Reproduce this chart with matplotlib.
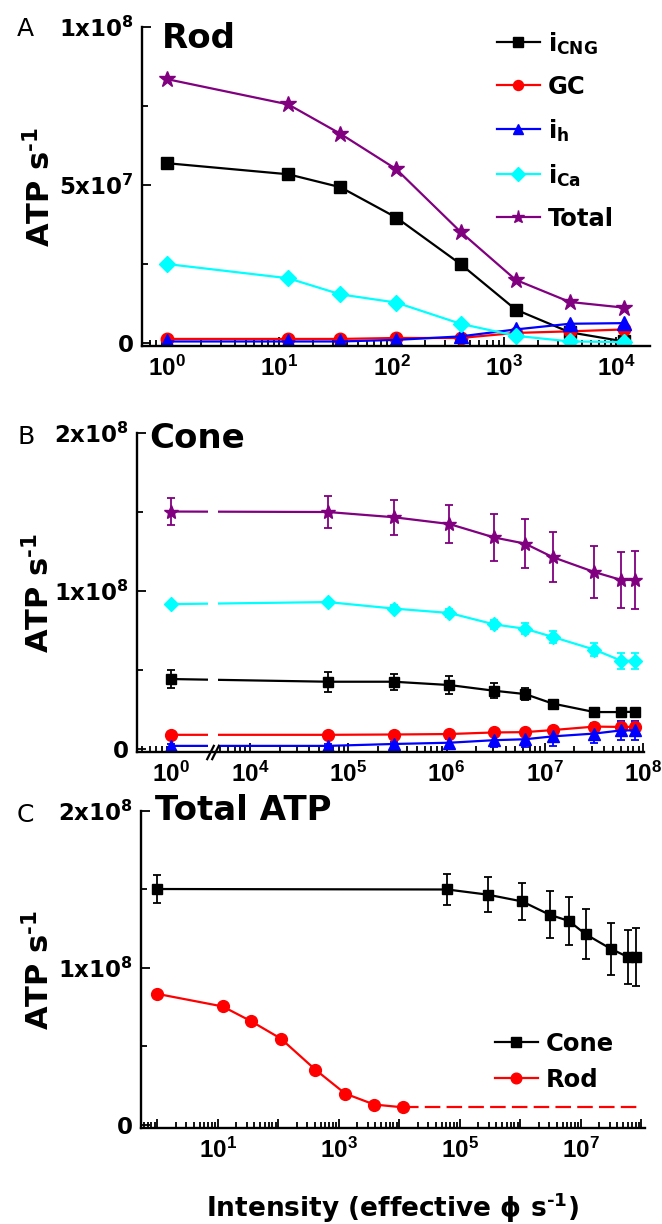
import numpy as np
import matplotlib
matplotlib.use("Agg")
import matplotlib.pyplot as plt
from matplotlib.ticker import FixedLocator, FuncFormatter, LogLocator, NullFormatter
from matplotlib.transforms import blended_transform_factory

# ---------------- data ----------------
rod_x = [1, 12, 35, 110, 410, 1270, 3850, 11700]
rod_icng = [5.69e7, 5.34e7, 4.93e7, 3.97e7, 2.5e7, 1.06e7, 3.4e6, 5e5]
rod_gc = [1.3e6, 1.3e6, 1.3e6, 1.6e6, 1.6e6, 3.2e6, 3.7e6, 4.3e6]
rod_ih = [5e5, 5e5, 5e5, 1.0e6, 2.1e6, 4.3e6, 6.1e6, 6.3e6]
rod_ica = [2.5e7, 2.05e7, 1.54e7, 1.28e7, 6.1e6, 2.3e6, 5e5, 3e5]
rod_total = [8.35e7, 7.55e7, 6.62e7, 5.5e7, 3.52e7, 2.0e7, 1.3e7, 1.12e7]
rod_plateau_x = [11700, 9.4e7]

cone_x = [1, 6.2e4, 2.9e5, 1.07e6, 3.05e6, 6.3e6, 1.2e7, 3.2e7, 6.0e7, 8.3e7]
cone_icng = [4.43e7, 4.26e7, 4.26e7, 4.05e7, 3.69e7, 3.48e7, 2.88e7, 2.34e7, 2.34e7, 2.36e7]
cone_icng_err = [5.7e6, 6.2e6, 5.0e6, 5.5e6, 4.8e6, 3.7e6, 2.5e6, 2.0e6, 2.0e6, 2.0e6]
cone_gc = [9.0e6, 9.0e6, 9.2e6, 9.5e6, 1.05e7, 1.07e7, 1.2e7, 1.42e7, 1.4e7, 1.4e7]
cone_gc_err = [1.0e6, 1.0e6, 1.0e6, 1.2e6, 1.5e6, 1.5e6, 2.0e6, 2.5e6, 2.5e6, 2.5e6]
cone_ih = [2.0e6, 2.0e6, 3.2e6, 4.0e6, 5.6e6, 6.2e6, 8.0e6, 9.8e6, 1.18e7, 1.18e7]
cone_ih_err = [1.0e6, 1.0e6, 1.5e6, 2.5e6, 4.5e6, 5.0e6, 6.0e6, 6.0e6, 6.0e6, 6.0e6]
cone_ica = [9.17e7, 9.3e7, 8.89e7, 8.61e7, 7.89e7, 7.61e7, 7.1e7, 6.29e7, 5.59e7, 5.59e7]
cone_ica_err = [1.5e6, 1.5e6, 2.0e6, 2.5e6, 3.0e6, 3.5e6, 4.0e6, 4.0e6, 5.0e6, 5.0e6]
cone_total = [1.503e8, 1.5e8, 1.467e8, 1.424e8, 1.339e8, 1.3e8, 1.215e8, 1.12e8, 1.07e8, 1.07e8]
cone_total_err = [8.8e6, 1.0e7, 1.1e7, 1.2e7, 1.5e7, 1.55e7, 1.6e7, 1.66e7, 1.75e7, 1.86e7]

series_labels = [r"i$_{\mathbf{CNG}}$", "GC", r"i$_{\mathbf{h}}$", r"i$_{\mathbf{Ca}}$", "Total"]
series_colors = ["black", "#FF0000", "#0000FF", "#00FFFF", "#800080"]
series_markers = ["s", "o", "^", "D", "*"]

ytick_a = [0, 5e7, 1e8]
ytick_a_labels = ["0", r"5x10$^{\mathbf{7}}$", r"1x10$^{\mathbf{8}}$"]
ytick_bc = [0, 1e8, 2e8]
ytick_bc_labels = ["0", r"1x10$^{\mathbf{8}}$", r"2x10$^{\mathbf{8}}$"]
xtick_b = [1, 1e4, 1e5, 1e6, 1e7, 1e8]

# ---------------- style ----------------
plt.rcParams["font.family"] = ["DejaVu Sans"]
plt.rcParams["font.weight"] = "bold"
plt.rcParams["mathtext.fontset"] = "custom"
plt.rcParams["mathtext.rm"] = "Liberation Sans:bold"
plt.rcParams["mathtext.it"] = "Liberation Sans:bold"
plt.rcParams["mathtext.bf"] = "DejaVu Sans:bold"
plt.rcParams["mathtext.default"] = "rm"

W, H = 662, 1224
fig = plt.figure(figsize=(W / 100, H / 100), dpi=100)

YLABEL = "ATP s$^{\\mathbf{\u20101}}$"


def px_axes(left, right, top, bottom):
    return fig.add_axes([left / W, 1 - bottom / H, (right - left) / W, (bottom - top) / H])


def style_axes(ax):
    for s in ["top", "right"]:
        ax.spines[s].set_visible(False)
    for s in ["left", "bottom"]:
        ax.spines[s].set_linewidth(1.7)
    ax.tick_params(which="both", direction="in", width=1.3, pad=6)
    ax.tick_params(axis="y", labelsize=16.5)
    ax.tick_params(axis="x", labelsize=17.5, pad=7)
    ax.tick_params(which="major", length=6.5)
    ax.tick_params(which="minor", length=4)
    ax.set_ylabel(YLABEL, fontsize=22, fontweight="bold")


def decade_fmt(odd_only=False):
    def f(v, p):
        e = int(round(np.log10(v)))
        if odd_only and e % 2 == 0:
            return ""
        return r"$10^{%d}$" % e
    return FuncFormatter(f)


lw = 1.6

# ---------------- Panel A ----------------
axA = px_axes(142, 650, 27, 346.2)
style_axes(axA)
axA.set_xscale("log")
rod_series = [rod_icng, rod_gc, rod_ih, rod_ica, rod_total]
msA = [8.5, 9, 9.5, 8.5, 12]
for ys, lab, c, m, ms in zip(rod_series, series_labels, series_colors, series_markers, msA):
    axA.plot(rod_x, ys, color=c, marker=m, ms=ms, lw=lw, label=lab, mec=c)
axA.set_xlim(10 ** -0.223, 10 ** 4.30)
axA.set_ylim(-1e6, 1e8)
axA.xaxis.set_major_locator(LogLocator(base=10, numticks=20))
axA.xaxis.set_minor_locator(LogLocator(base=10, subs=np.arange(2, 10), numticks=20))
axA.xaxis.set_major_formatter(decade_fmt())
axA.xaxis.set_minor_formatter(NullFormatter())
axA.yaxis.set_major_locator(FixedLocator(ytick_a))
axA.set_yticklabels(ytick_a_labels)
axA.yaxis.set_minor_locator(FixedLocator([2.5e7, 7.5e7]))
axA.yaxis.set_label_coords(-0.169, 0.5)
axA.legend(loc="upper left", bbox_to_anchor=(497 / W, 1 - 30 / H),
           bbox_transform=fig.transFigure, frameon=False, fontsize=17.5,
           handlelength=1.75, handletextpad=0.35, labelspacing=0.74,
           borderpad=0, borderaxespad=0, numpoints=1, markerscale=0.8)

# ---------------- Panel B (broken log axis) ----------------
T1, T2, OFF = 0.37, 3.67, 3.2
U1 = T1 + OFF
U2 = T2
S = (U2 - U1) / (T2 - T1)


def fwd(x):
    x = np.asarray(x, dtype=float)
    t = np.log10(np.clip(x, 1e-12, None))
    return np.where(t <= T1, t + OFF, np.where(t >= T2, t, U1 + (t - T1) * S))


def inv(u):
    u = np.asarray(u, dtype=float)
    t = np.where(u <= U1, u - OFF, np.where(u >= U2, u, T1 + (u - U1) / S))
    return 10.0 ** t


axB = px_axes(137, 644, 433, 752.2)
style_axes(axB)
axB.set_xscale("function", functions=(fwd, inv))
cone_series = [cone_icng, cone_gc, cone_ih, cone_ica, cone_total]
cone_errs = [cone_icng_err, cone_gc_err, cone_ih_err, cone_ica_err, cone_total_err]
msB = [6.5, 8.5, 8, 7.5, 10.5]
for ys, es, c, m, ms in zip(cone_series, cone_errs, series_colors, series_markers, msB):
    axB.errorbar(cone_x, ys, yerr=es, color=c, marker=m, ms=ms, lw=lw, mec=c,
                 elinewidth=1.3, capsize=3.2, capthick=1.3, zorder=2)
axB.set_xlim(10 ** (2.85 - OFF), 10 ** 8.01)
axB.set_ylim(-2e6, 2e8)
axB.xaxis.set_major_locator(FixedLocator(xtick_b))
axB.xaxis.set_major_formatter(decade_fmt())
minorB = [k * 0.1 for k in range(5, 10)] + [k * 10.0 ** e for e in range(3, 8) for k in range(2, 10)
                                             if k * 10.0 ** e > 10 ** T2]
axB.xaxis.set_minor_locator(FixedLocator(minorB))
axB.xaxis.set_minor_formatter(NullFormatter())
axB.yaxis.set_major_locator(FixedLocator(ytick_bc))
axB.set_yticklabels(ytick_bc_labels)
axB.yaxis.set_minor_locator(FixedLocator([5e7, 1.5e8]))
axB.yaxis.set_label_coords(-0.160, 0.5)
# axis break: white gap in the lines and // marks
axB.axvspan(10 ** T1, 10 ** T2, ymin=0.012, ymax=1, fc="white", ec="none", zorder=2.2)
blend = blended_transform_factory(axB.transData, axB.transAxes)
axB.plot([10 ** 1.2, 10 ** 2.85], [0, 0], transform=blend, ls="none",
         marker=[(-0.5, -1), (0.5, 1)], ms=11, mew=1.6, color="black",
         clip_on=False, zorder=5)

# ---------------- Panel C ----------------
axC = px_axes(141, 645, 811, 1128.1)
style_axes(axC)
axC.set_xscale("log")
cone_c = axC.errorbar(cone_x, cone_total, yerr=cone_total_err, color="black", marker="s", ms=7.5,
                      lw=lw, elinewidth=1.3, capsize=3.2, capthick=1.3)
rod_line, = axC.plot(rod_x, rod_total, color="#FF0000", marker="o", ms=8.5, lw=lw)
axC.plot(rod_plateau_x, [rod_total[-1]] * len(rod_plateau_x), color="#FF0000", lw=lw,
         ls=(0, (7, 2.8)))
axC.set_xlim(10 ** -0.27, 10 ** 8.06)
axC.set_ylim(-2e6, 2e8)
axC.xaxis.set_major_locator(LogLocator(base=10, numticks=20))
axC.xaxis.set_minor_locator(LogLocator(base=10, subs=np.arange(2, 10), numticks=20))
axC.xaxis.set_major_formatter(decade_fmt(odd_only=True))
axC.xaxis.set_minor_formatter(NullFormatter())
axC.yaxis.set_major_locator(FixedLocator(ytick_bc))
axC.set_yticklabels(ytick_bc_labels)
axC.yaxis.set_minor_locator(FixedLocator([5e7, 1.5e8]))
axC.yaxis.set_label_coords(-0.169, 0.5)
axC.set_xlabel("Intensity (effective \u03d5 s$^{\\mathbf{\u20101}}$)", fontsize=19, fontweight="bold")
axC.xaxis.set_label_coords(0.5, -0.2)
axC.legend(handles=[cone_c.lines[0], rod_line], labels=["Cone", "Rod"],
           loc="upper left", bbox_to_anchor=(495 / W, 1 - 1032 / H),
           bbox_transform=fig.transFigure, frameon=False, fontsize=17.5,
           handlelength=1.75, handletextpad=0.35, labelspacing=0.48,
           borderpad=0, borderaxespad=0, numpoints=1, markerscale=0.9)

# ---------------- titles and panel letters ----------------
for txt, x, y in [("Rod", 162, 38), ("Cone", 149, 438), ("Total ATP", 155, 810)]:
    fig.text(x / W, 1 - y / H, txt, fontsize=24.5, fontweight="bold", ha="left", va="center")
for txt, x, y in [("A", 17, 29), ("B", 17, 437), ("C", 17, 815)]:
    fig.text(x / W, 1 - y / H, txt, fontsize=18, fontweight="normal", ha="left", va="center")

fig.savefig("out.png", dpi=100)
